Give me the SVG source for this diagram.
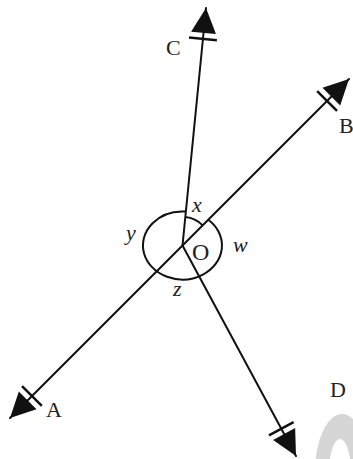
<svg xmlns="http://www.w3.org/2000/svg" xmlns:xlink="http://www.w3.org/1999/xlink" width="353" height="459" viewBox="0 0 353 459">
  <style>
    .ln { stroke: #111; stroke-width: 2; fill: none; stroke-linecap: round; }
    .arc { stroke: #111; stroke-width: 2; fill: none; }
    .lbl { font-family: "Liberation Serif", "Times New Roman", serif; font-size: 22px; fill: #222; }
    .it { font-style: italic; }
  </style>
  <defs>
    <g id="head">
      <polygon points="0,0 -25,-12.5 -25,12.5" fill="#111"/>
      <line x1="-31" y1="-14" x2="-31" y2="14" stroke="#111" stroke-width="2.5"/>
    </g>
  </defs>
  <rect width="353" height="459" fill="#ffffff"/>
  <!-- watermark -->
  <path d="M315,472 A27,58 0 1 1 369,472 A27,58 0 1 1 315,472 Z M329,472 A11,33 0 1 0 351,472 A11,33 0 1 0 329,472 Z" fill="#d6d6d6" fill-rule="evenodd"/>
  <g id="connectors">
    <line class="ln" x1="10" y1="418" x2="349" y2="79"/>
    <line class="ln" x1="182.5" y1="245.5" x2="206" y2="8"/>
    <line class="ln" x1="182.5" y1="245.5" x2="296" y2="456"/>
    <use xlink:href="#head" href="#head" transform="translate(206,8) rotate(-84.35)"/>
    <use xlink:href="#head" href="#head" transform="translate(349,79) rotate(-45)"/>
    <use xlink:href="#head" href="#head" transform="translate(10,418) rotate(135)"/>
    <use xlink:href="#head" href="#head" transform="translate(296,456) rotate(61.67)"/>
  </g>
  <g id="angles">
    <path class="arc" d="M185.85,211.6 A39.5,34 0 1 0 208.27,219.73"/>
    <path class="arc" d="M185.3,217.1 A28.5,28.5 0 0 1 202.65,225.35"/>
  </g>
  <g id="labels">
    <text class="lbl" x="166" y="55">C</text>
    <text class="lbl" x="339" y="133">B</text>
    <text class="lbl" x="46" y="417">A</text>
    <text class="lbl" x="330" y="397">D</text>
    <text class="lbl" x="192" y="259.5" style="font-size:24px">O</text>
    <text class="lbl it" x="192" y="211.5">x</text>
    <text class="lbl it" x="126" y="239.5">y</text>
    <text class="lbl it" x="233" y="251.5">w</text>
    <text class="lbl it" x="173" y="296">z</text>
  </g>
</svg>
